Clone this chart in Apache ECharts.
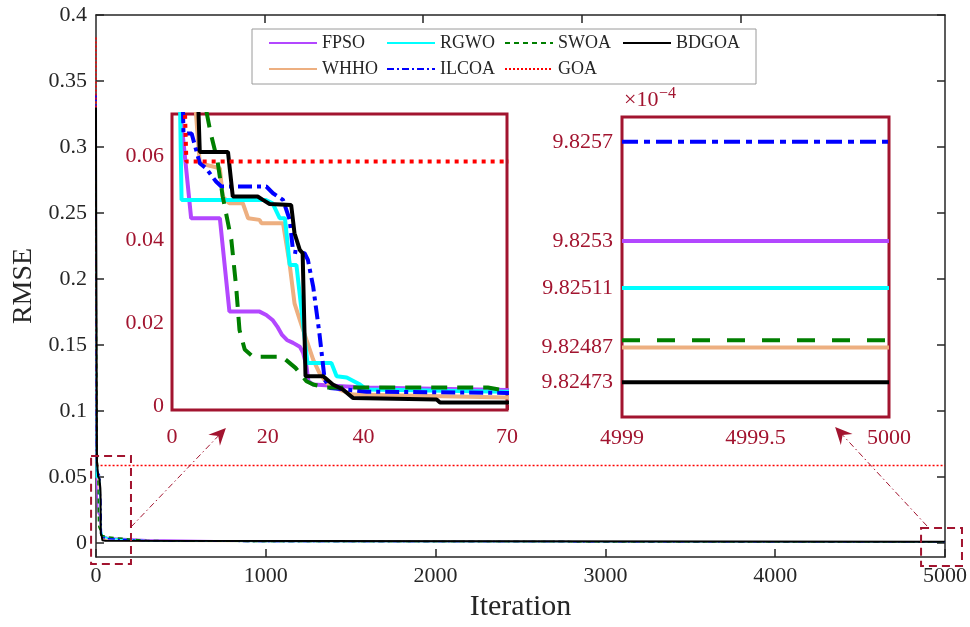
<!DOCTYPE html>
<html>
<head>
<meta charset="utf-8">
<script src="https://cdn.jsdelivr.net/npm/echarts@6/dist/echarts.min.js"></script>
<style>html,body{margin:0;padding:0;background:#fff;}#c{width:970px;height:627px;}</style>
</head>
<body>
<div id="c"></div>
<script>
// ---------- data ----------
const seriesNames = ['FPSO','WHHO','RGWO','ILCOA','SWOA','BDGOA','GOA'];
const legendOrder = ['FPSO','RGWO','SWOA','BDGOA','WHHO','ILCOA','GOA'];

// [iteration, RMSE] breakpoints
const FPSO = [[0,0.33],[1,0.16],[2,0.068],[4,0.0452],[10,0.0452],[12,0.0228],[18.3,0.0228],[19.7,0.0220],[21,0.0208],[22,0.0192],[23,0.0172],[24,0.0160],[25.3,0.0153],[26.7,0.0144],[27.4,0.0129],[28.1,0.0097],[28.5,0.0061],[29.5,0.0053],[40,0.0046],[70,0.0040],[300,0.0024],[1000,0.0012]];
const WHHO = [[0,0.30],[1,0.15],[4.7,0.075],[5.8,0.0584],[10,0.0572],[10.6,0.0504],[12,0.0488],[14.8,0.0488],[15.9,0.0452],[18.3,0.0448],[18.7,0.0440],[23.2,0.0440],[24.6,0.0340],[25.6,0.0248],[26.7,0.0208],[28.1,0.0160],[29.5,0.0113],[30.8,0.0081],[32.3,0.0057],[35,0.0041],[37.8,0.0029],[70,0.0022],[300,0.0014],[1000,0.00105]];
const RGWO = [[0,0.31],[1,0.12],[2,0.0496],[19.5,0.0496],[21,0.0488],[22.5,0.0452],[23.6,0.0452],[24.6,0.0340],[26,0.0340],[28.3,0.0105],[33.3,0.0105],[34.4,0.0073],[36.5,0.0070],[39.3,0.0053],[40.7,0.0041],[70,0.0036],[300,0.0018],[1000,0.0011]];
const ILCOA = [[0,0.34],[1,0.14],[2.4,0.0655],[4.1,0.0655],[5.8,0.0584],[7.1,0.0572],[9.2,0.0540],[10.3,0.0528],[19.7,0.0528],[21.1,0.0512],[23.2,0.0496],[24.6,0.0448],[25.3,0.0372],[27.7,0.0368],[28.4,0.0352],[29.5,0.0288],[30.8,0.0176],[31.9,0.0065],[33,0.0045],[40.7,0.0036],[70,0.0033],[300,0.0017],[1000,0.0011]];
const SWOA = [[0,0.32],[1,0.2],[7,0.072],[8,0.066],[9.5,0.059],[10.6,0.0504],[12.4,0.0400],[13.4,0.0288],[14.1,0.0184],[15.2,0.0137],[16.9,0.0120],[23,0.0120],[25.8,0.0093],[28.1,0.0061],[29.5,0.0053],[32.3,0.0046],[66,0.0046],[70,0.0038],[300,0.0019],[1000,0.0011]];
const BDGOA = [[0,0.33],[1,0.25],[5,0.09],[5.8,0.0611],[11.7,0.0611],[12.7,0.0504],[17.9,0.0504],[19,0.0496],[20.4,0.0486],[24.9,0.0484],[25.6,0.0416],[26.7,0.0376],[27.3,0.0368],[27.9,0.0073],[31.6,0.0073],[33.6,0.0053],[35.7,0.0041],[37.8,0.0021],[55.3,0.0017],[56,0.000982473]];
const GOA = [[0,0.383],[1,0.21],[2,0.10],[3,0.0588],[5000,0.0588]];

// final RMSE values (x 1e-4) at iterations 4999 and 5000
const finalVals = {FPSO:9.8253, WHHO:9.82487, RGWO:9.82511, ILCOA:9.8257, SWOA:9.8249, BDGOA:9.82473};

// tick labels
const mainYTicks = [0,0.05,0.1,0.15,0.2,0.25,0.3,0.35,0.4];
const mainTopTicks = [994,1924,2859,3800];
const inset1XTicks = [0,20,40,70];
const inset1YTicks = [0,0.02,0.04,0.06];
const inset1YLabels = ['0','0.02','0.04','0.06'];
const inset2XTicks = [4999,4999.5,5000];
const inset2YTicks = [9.82473,9.82487,9.82511,9.8253,9.8257];
const inset2YLabels = ['9.82473','9.82487','9.82511','9.8253','9.8257'];

// ---------- styles ----------
const FONT = 'Liberation Serif';
const AX = '#262626';
const DR = '#A2142F';
const colors = {FPSO:'#B347FF', WHHO:'#EDAF80', RGWO:'#00FFFF', ILCOA:'#0000FF', SWOA:'#007F00', BDGOA:'#000000', GOA:'#FF0000'};
const dashMain = {SWOA:[5,4], ILCOA:[7,3,2,3], GOA:[2,2]};
const dashIn1 = {SWOA:[16,10], ILCOA:[14,5,4,5], GOA:[4,5]};
const dashIn2 = {SWOA:[18,17], ILCOA:[16,6,6,6]};
const traces = {FPSO, WHHO, RGWO, ILCOA, SWOA, BDGOA, GOA};

function fullTrace(n){
  const d = traces[n].slice();
  if (finalVals[n] !== undefined) {
    d.push([4999, finalVals[n]*1e-4]);
    d.push([5000, finalVals[n]*1e-4]);
  }
  return d;
}

const series = [];
seriesNames.forEach(n => series.push({
  name:n, type:'line', xAxisIndex:0, yAxisIndex:0, data: fullTrace(n), symbol:'none',
  lineStyle:{color:colors[n], width: n === 'BDGOA' ? 2 : 1.5, type: dashMain[n] || 'solid'}, itemStyle:{color:colors[n]}, z: n === 'BDGOA' ? 4 : 3
}));
seriesNames.forEach(n => series.push({
  name:n, type:'line', xAxisIndex:2, yAxisIndex:2, data: fullTrace(n), symbol:'none',
  lineStyle:{color:colors[n], width:4, type: dashIn1[n] || 'solid'}, itemStyle:{color:colors[n]}, z:5
}));
seriesNames.forEach(n => { if (finalVals[n] === undefined) return; series.push({
  name:n, type:'line', xAxisIndex:4, yAxisIndex:4, data: [[4999, finalVals[n]],[5000, finalVals[n]]], symbol:'none',
  lineStyle:{color:colors[n], width:4, type: dashIn2[n] || 'solid'}, itemStyle:{color:colors[n]}, z:5
});});

const lbl = (c, extra) => Object.assign({fontFamily:FONT, fontSize:22, color:c}, extra||{});
const noSplit = {show:false};
const plain = v => String(v);

const option = {
  animation:false,
  backgroundColor:'#fff',
  legend:{
    data: legendOrder, left:252, top:29, width:500, padding:[5,16,6,16],
    borderColor:'#9a9a9a', borderWidth:1, backgroundColor:'#fff',
    itemWidth:48, itemHeight:12, itemGap:8,
    itemStyle:{opacity:0},
    textStyle:{fontFamily:FONT, fontSize:18, color:AX, width:56, overflow:'none', lineHeight:17},
    selectedMode:false, z:10
  },
  grid:[
    {left:96, top:15, width:850, height:542, show:false},
    {left:172, top:114, width:335, height:296, show:true, backgroundColor:'#fff', borderColor:DR, borderWidth:3, z:4},
    {left:622, top:117, width:267, height:300, show:true, backgroundColor:'#fff', borderColor:DR, borderWidth:3, z:4}
  ],
  xAxis:[
    {gridIndex:0, type:'value', min:0, max:5000, interval:1000,
     axisLine:{onZero:false, lineStyle:{color:AX, width:1.5}}, axisTick:{inside:true, length:8, lineStyle:{color:AX, width:1.5}},
     axisLabel:lbl(AX,{margin:8, formatter:plain}), splitLine:noSplit,
     name:'Iteration', nameLocation:'middle', nameGap:33, nameTextStyle:{fontFamily:FONT, fontSize:30, color:AX}},
    {gridIndex:0, type:'value', position:'top', min:0, max:5000,
     axisLine:{onZero:false, lineStyle:{color:AX, width:1.5}}, axisTick:{inside:true, length:8, customValues:mainTopTicks, lineStyle:{color:AX, width:1.5}},
     axisLabel:{show:false}, splitLine:noSplit},
    {gridIndex:1, type:'value', min:0, max:70,
     axisLine:{show:false, onZero:false}, axisTick:{inside:true, length:5, customValues:inset1XTicks, lineStyle:{color:DR, width:3}},
     axisLabel:lbl(DR,{margin:16, customValues:inset1XTicks, formatter:plain}),
     splitLine:{show:true, lineStyle:{color:'#cfcfcf', type:[5,4], width:1}}},
    {gridIndex:1, type:'value', position:'top', min:0, max:70,
     axisLine:{show:false, onZero:false}, axisTick:{inside:true, length:5, customValues:[20,40], lineStyle:{color:DR, width:3}},
     axisLabel:{show:false}, splitLine:noSplit},
    {gridIndex:2, type:'value', min:4999, max:5000,
     axisLine:{show:false, onZero:false}, axisTick:{inside:true, length:5, customValues:[4999.5], lineStyle:{color:DR, width:3}},
     axisLabel:lbl(DR,{margin:10, customValues:inset2XTicks, formatter:plain}),
     splitLine:{show:true, lineStyle:{color:'#cfcfcf', type:[5,4], width:1}}},
    {gridIndex:2, type:'value', position:'top', min:4999, max:5000,
     axisLine:{show:false, onZero:false}, axisTick:{inside:true, length:5, customValues:[4999.5], lineStyle:{color:DR, width:3}},
     axisLabel:{show:false}, splitLine:noSplit}
  ],
  yAxis:[
    {gridIndex:0, type:'value', min:-0.0106, max:0.4,
     axisLine:{onZero:false, lineStyle:{color:AX, width:1.5}}, axisTick:{inside:true, length:8, customValues:mainYTicks, lineStyle:{color:AX, width:1.5}},
     axisLabel:lbl(AX,{margin:9, customValues:mainYTicks}), splitLine:noSplit,
     name:'RMSE', nameLocation:'middle', nameGap:58, nameTextStyle:{fontFamily:FONT, fontSize:28, color:AX}},
    {gridIndex:0, type:'value', position:'right', min:-0.0106, max:0.4,
     axisLine:{onZero:false, lineStyle:{color:AX, width:1.5}}, axisTick:{inside:true, length:8, customValues:mainYTicks, lineStyle:{color:AX, width:1.5}},
     axisLabel:{show:false}, splitLine:noSplit},
    {gridIndex:1, type:'value', min:-0.0008, max:0.0702,
     axisLine:{show:false, onZero:false}, axisTick:{inside:true, length:5, customValues:inset1YTicks, lineStyle:{color:DR, width:3}},
     axisLabel:lbl(DR,{margin:8, customValues:inset1YTicks, formatter:v => inset1YLabels[inset1YTicks.indexOf(v)] ?? String(v)}),
     splitLine:{show:true, lineStyle:{color:'#cfcfcf', type:[5,4], width:1}}},
    {gridIndex:1, type:'value', position:'right', min:-0.0008, max:0.0702,
     axisLine:{show:false, onZero:false}, axisTick:{inside:true, length:5, customValues:inset1YTicks, lineStyle:{color:DR, width:3}},
     axisLabel:{show:false}, splitLine:noSplit},
    {gridIndex:2, type:'value', min:9.82459, max:9.8258,
     axisLine:{show:false, onZero:false}, axisTick:{show:false, customValues:inset2YTicks},
     axisLabel:lbl(DR,{margin:9, customValues:inset2YTicks, formatter:v => inset2YLabels[inset2YTicks.indexOf(v)] ?? String(v)}),
     splitLine:{show:true, lineStyle:{color:'#dcdcdc', width:1}}},
    {gridIndex:2, type:'value', position:'right', min:9.82459, max:9.8258,
     axisLine:{show:false, onZero:false}, axisTick:{show:false},
     axisLabel:{show:false}, splitLine:noSplit}
  ],
  series
};

const chart = echarts.init(document.getElementById('c'), null, {renderer:'canvas'});
chart.setOption(option);

// ---------- annotations: zoom boxes and arrows, positioned through the main axes ----------
const zoomBoxes = [ {x:[-29,206], y:[0.0659,-0.0159]}, {x:[4859,5100], y:[0.0114,-0.0174]} ];
const arrows = [ {from:[206,0.0121], to:[765,0.0871]}, {from:[4894,0.0129], to:[4353,0.0879]} ];
const px = p => chart.convertToPixel({xAxisIndex:0, yAxisIndex:0}, p);
const g = [];
zoomBoxes.forEach(b => {
  const a = px([b.x[0], b.y[0]]), c = px([b.x[1], b.y[1]]);
  g.push({type:'rect', shape:{x:a[0], y:a[1], width:c[0]-a[0], height:c[1]-a[1]},
    style:{fill:null, stroke:DR, lineWidth:2, lineDash:[8,5]}, z:20});
});
arrows.forEach(ar => {
  const s = px(ar.from), t = px(ar.to);
  const dx = t[0]-s[0], dy = t[1]-s[1], L = Math.hypot(dx,dy), ux = dx/L, uy = dy/L, nx = -uy, ny = ux;
  const len = 17, hw = 8, notch = 11;
  const back = [t[0]-ux*len, t[1]-uy*len];
  g.push({type:'line', shape:{x1:s[0], y1:s[1], x2:t[0]-ux*notch, y2:t[1]-uy*notch},
    style:{stroke:DR, lineWidth:1, lineDash:[6,3,1.5,3]}, z:20});
  g.push({type:'polygon', shape:{points:[t, [back[0]+nx*hw, back[1]+ny*hw], [t[0]-ux*notch, t[1]-uy*notch], [back[0]-nx*hw, back[1]-ny*hw]]},
    style:{fill:DR}, z:20});
});
g.push({type:'text', left:624, top:89, style:{text:'×10', fontFamily:FONT, fontSize:22, fill:DR}, z:20});
g.push({type:'text', left:659, top:86, style:{text:'−4', fontFamily:FONT, fontSize:16, fill:DR}, z:20});
chart.setOption({graphic:g});
</script>
</body>
</html>
